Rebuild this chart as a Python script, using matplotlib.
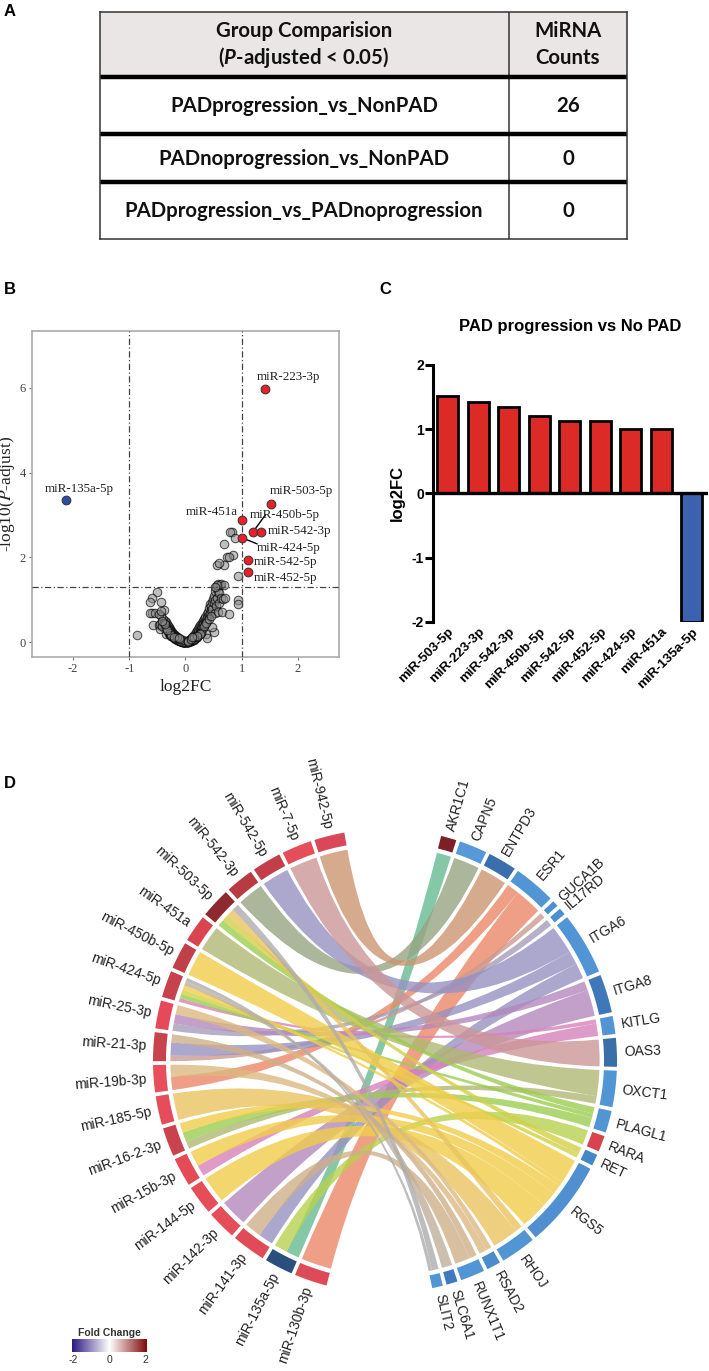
"""Panels A-D: miRNA comparison table, volcano plot, log2FC bars and chord diagram."""

import matplotlib
matplotlib.use('Agg')
import matplotlib.pyplot as plt
import numpy as np
from matplotlib.colors import LinearSegmentedColormap, to_rgb
from matplotlib.patches import PathPatch, Polygon
from matplotlib.path import Path

W, H = 709, 1371
SANS = 'Liberation Sans'
SERIF = 'Liberation Serif'

plt.rcParams['mathtext.fontset'] = 'custom'
plt.rcParams['mathtext.it'] = 'Lato:italic:bold'
plt.rcParams['mathtext.rm'] = 'Lato:bold'

# Panel A
table_rows = ['PADprogression_vs_NonPAD', 'PADnoprogression_vs_NonPAD', 'PADprogression_vs_PADnoprogression']
table_counts = ['26', '0', '0']

# Panel B
gray_x = [-0.87, -0.51, -0.6, -0.63, -0.43, -0.6, -0.39, -0.57, -0.48, -0.64, -0.55,
          -0.02, -0.03, -0.04, -0.05, -0.06, -0.07, -0.08, -0.09, -0.1, -0.11, -0.12, -0.13, -0.14, -0.15,
          -0.16, -0.17, -0.18, -0.19, -0.2, -0.21, -0.22, -0.23, -0.24, -0.25, -0.26, -0.27, -0.28, -0.29,
          -0.3, -0.31, -0.32, -0.33, -0.34, -0.35, -0.36, -0.37, -0.38, -0.4, -0.42, -0.43, -0.45, -0.46,
          -0.47, -0.44, -0.41, -0.34, -0.3, -0.26, -0.22, -0.18, -0.14, -0.1, -0.06, -0.12, -0.08, -0.16,
          0.0, 0.01, -0.01, 0.0, 0.01, -0.02, 0.02, 0.03, -0.03, -0.05, 0.05, 0.07, -0.07, 0.09, -0.09, 0.11, -0.11,
          0.02, 0.03, 0.04, 0.05, 0.06, 0.07, 0.08, 0.09, 0.1, 0.11, 0.12, 0.13, 0.14, 0.15, 0.16, 0.17, 0.18,
          0.19, 0.2, 0.21, 0.22, 0.23, 0.24, 0.25, 0.26, 0.27, 0.28, 0.29, 0.3, 0.31, 0.32, 0.33, 0.34, 0.35,
          0.36, 0.37, 0.38, 0.39, 0.4, 0.41, 0.42, 0.43, 0.44, 0.45, 0.38, 0.5, 0.47, 0.46, 0.47, 0.48, 0.49,
          0.5, 0.51, 0.52, 0.53, 0.53, 0.54, 0.55, 0.56, 0.57, 0.58, 0.58, 0.6, 0.6, 0.62, 0.63, 0.64, 0.66,
          0.68, 0.7, 0.56, 0.65, 0.53,
          0.82, 0.8, 0.88, 0.68, 0.74, 0.85, 0.77, 0.69, 0.56, 0.6, 0.94, 0.93, 0.93, 0.77,
          -0.04, -0.06, -0.09, -0.12, -0.15, -0.18, -0.21, -0.24, -0.27, -0.31, -0.35, -0.39,
          0.04, 0.06, 0.09, 0.12, 0.15, 0.18, 0.21, 0.24, 0.27, 0.31, 0.35, 0.39,
          -0.03, -0.08, -0.13, -0.19, 0.03, 0.08, 0.13, 0.19, 0.23, 0.28, -0.25, -0.28,
          -0.05, -0.1, -0.15, -0.2, -0.25, -0.05, -0.1, -0.15, -0.2, -0.12, 0.05, 0.1, 0.15, 0.2, 0.25,
          0.05, 0.1, 0.15, 0.2, 0.12, 0.33, 0.37, 0.41, 0.45, -0.33, -0.37, -0.42]
gray_y = [0.17, 1.18, 1.04, 0.94, 0.94, 0.68, 0.76, 0.41, 0.41, 0.68, 0.68,
          0.0, 0.01, 0.01, 0.02, 0.02, 0.03, 0.04, 0.04, 0.05, 0.06, 0.07, 0.08, 0.08, 0.1,
          0.11, 0.12, 0.14, 0.16, 0.15, 0.18, 0.2, 0.19, 0.24, 0.26, 0.22, 0.3, 0.27, 0.35,
          0.32, 0.38, 0.3, 0.42, 0.36, 0.48, 0.4, 0.5, 0.33, 0.55, 0.45, 0.62, 0.3, 0.42,
          0.66, 0.74, 0.38, 0.2, 0.2, 0.14, 0.12, 0.07, 0.05, 0.03, 0.01, 0.04, 0.02, 0.08,
          0.0, 0.0, 0.0, 0.01, 0.01, 0.0, 0.0, 0.01, 0.0, 0.01, 0.01, 0.02, 0.02, 0.03, 0.03, 0.05, 0.04,
          0.0, 0.01, 0.02, 0.02, 0.03, 0.04, 0.05, 0.06, 0.07, 0.09, 0.1, 0.12, 0.11, 0.14, 0.17, 0.15, 0.2,
          0.23, 0.18, 0.27, 0.3, 0.24, 0.35, 0.28, 0.4, 0.33, 0.38, 0.45, 0.36, 0.5, 0.43, 0.55, 0.47, 0.6,
          0.52, 0.2, 0.66, 0.58, 0.72, 0.63, 0.8, 0.68, 0.9, 0.75, 0.09, 0.23, 0.35, 0.85, 0.95, 0.78, 1.02,
          0.92, 1.1, 1.0, 1.2, 0.68, 0.85, 1.3, 1.05, 0.7, 1.38, 1.2, 1.15, 0.92, 1.35, 1.05, 1.38, 1.02,
          1.35, 1.05, 1.35, 0.72, 1.31,
          2.6, 2.6, 2.46, 2.31, 2.02, 2.05, 2.0, 1.83, 1.81, 1.87, 1.57, 1.0, 0.9, 0.67,
          0.0, 0.01, 0.02, 0.03, 0.05, 0.09, 0.12, 0.15, 0.2, 0.27, 0.33, 0.46,
          0.0, 0.01, 0.02, 0.04, 0.06, 0.1, 0.13, 0.19, 0.25, 0.34, 0.42, 0.5,
          0.0, 0.02, 0.05, 0.1, 0.0, 0.02, 0.05, 0.11, 0.16, 0.22, 0.15, 0.21,
          0.01, 0.03, 0.07, 0.1, 0.17, 0.04, 0.07, 0.12, 0.13, 0.1, 0.01, 0.04, 0.08, 0.13, 0.2,
          0.03, 0.08, 0.11, 0.15, 0.12, 0.38, 0.45, 0.55, 0.62, 0.28, 0.44, 0.5]
red_names = ['miR-223-3p', 'miR-503-5p', 'miR-451a', 'miR-450b-5p', 'miR-542-3p', 'miR-424-5p', 'miR-542-5p', 'miR-452-5p']
red_x = [1.42, 1.52, 1.01, 1.20, 1.34, 1.01, 1.12, 1.12]
red_y = [5.97, 3.26, 2.87, 2.60, 2.60, 2.46, 1.94, 1.65]
blue_name = 'miR-135a-5p'
blue_x = [-2.13]
blue_y = [3.35]
# label anchors (left end of the text), in data units
label_x = [1.26, 1.50, 0.0, 1.15, 1.47, 1.27, 1.21, 1.21]
label_y = [6.26, 3.57, 3.06, 3.00, 2.63, 2.23, 1.89, 1.52]
blue_label = (-2.51, 3.61)

# Panel C
bar_names = ['miR-503-5p', 'miR-223-3p', 'miR-542-3p', 'miR-450b-5p', 'miR-542-5p',
             'miR-452-5p', 'miR-424-5p', 'miR-451a', 'miR-135a-5p']
bar_vals = [1.52, 1.42, 1.34, 1.20, 1.12, 1.12, 1.01, 1.00, -2.0]

# Panel D: sectors run clockwise from the lower left, sizes in degrees
mir_names = ['miR-130b-3p', 'miR-135a-5p', 'miR-141-3p', 'miR-142-3p', 'miR-144-5p', 'miR-15b-3p', 'miR-16-2-3p',
             'miR-185-5p', 'miR-19b-3p', 'miR-21-3p', 'miR-25-3p', 'miR-424-5p', 'miR-450b-5p', 'miR-451a',
             'miR-503-5p', 'miR-542-3p', 'miR-542-5p', 'miR-7-5p', 'miR-942-5p']
mir_sizes = [8.2, 7.1, 8.5, 7.3, 7.3, 7.2, 7.2, 7.2, 6.8, 7.2, 7.0, 6.7, 6.8, 6.8, 7.5, 7.0, 7.3, 7.5, 7.6]
mir_colors = ['#DE4A57', '#2B4F7C', '#E14A57', '#E54D58', '#E54D58', '#E44B57', '#C9434F', '#E64D5A', '#E84E5B',
              '#C9434F', '#E5495A', '#C6434D', '#C04048', '#D9444F', '#8E2A2F', '#B83A42', '#C23E48', '#E44D59',
              '#D9485A']
gene_names = ['AKR1C1', 'CAPN5', 'ENTPD3', 'ESR1', 'GUCA1B', 'IL17RD', 'ITGA6', 'ITGA8', 'KITLG', 'OAS3', 'OXCT1',
              'PLAGL1', 'RARA', 'RET', 'RGS5', 'RHOJ', 'RSAD2', 'RUNX1T1', 'SLC6A1', 'SLIT2']
gene_sizes = [3.9, 7.0, 7.2, 10.6, 1.5, 1.8, 15.6, 9.6, 4.5, 7.2, 9.1, 5.5, 4.0, 2.9, 21.8, 8.9, 3.5, 6.1, 2.8, 2.7]
gene_colors = ['#7B2027', '#5698D8', '#3A6FAE', '#5295D4', '#4A90D0', '#4A90D0', '#5295D4', '#3F78B8', '#5295D4',
               '#3A6FA8', '#5295D4', '#5295D4', '#D8434F', '#4488C8', '#5090D0', '#5295D4', '#4A8CCC', '#5295D4',
               '#3F7ABB', '#5295D4']
ribbon_colors = ['#84C9A9', '#ACB69A', '#D5AA8D', '#EE9F85', '#D5AFA8', '#B8B0C6', '#ACA7CD', '#C3A0CA', '#DF9BC8',
                 '#D5ABAB', '#BFC68F', '#AFD773', '#C6DA72', '#DAD96A', '#F4D86E', '#EDD07F', '#E3C79A', '#D8BFA0',
                 '#CDC0AF', '#BDBDBD']
# links: miRNA, gene, value; listed in the order they stack inside the miRNA sector
link_mir = ['miR-130b-3p', 'miR-135a-5p', 'miR-135a-5p', 'miR-141-3p', 'miR-141-3p', 'miR-142-3p', 'miR-144-5p',
            'miR-15b-3p', 'miR-15b-3p', 'miR-16-2-3p', 'miR-16-2-3p', 'miR-16-2-3p', 'miR-185-5p', 'miR-19b-3p',
            'miR-19b-3p', 'miR-21-3p', 'miR-21-3p', 'miR-21-3p', 'miR-25-3p', 'miR-25-3p', 'miR-25-3p',
            'miR-424-5p', 'miR-424-5p', 'miR-424-5p', 'miR-424-5p', 'miR-424-5p', 'miR-424-5p', 'miR-450b-5p',
            'miR-451a', 'miR-503-5p', 'miR-503-5p', 'miR-503-5p', 'miR-503-5p', 'miR-542-3p', 'miR-542-5p',
            'miR-7-5p', 'miR-942-5p']
link_gene = ['ESR1', 'AKR1C1', 'RARA', 'ITGA6', 'RUNX1T1', 'ITGA8', 'RGS5',
             'KITLG', 'RGS5', 'OXCT1', 'PLAGL1', 'RGS5', 'RHOJ', 'ESR1',
             'RSAD2', 'GUCA1B', 'ITGA6', 'RUNX1T1', 'IL17RD', 'ITGA8', 'RSAD2',
             'KITLG', 'PLAGL1', 'RET', 'RGS5', 'SLC6A1', 'SLIT2', 'RGS5',
             'OXCT1', 'PLAGL1', 'RET', 'RHOJ', 'SLIT2', 'CAPN5', 'ITGA6',
             'OAS3', 'ENTPD3']
link_val = [8.0, 3.5, 3.5, 4.0, 4.5, 7.3, 7.3,
            3.0, 4.2, 2.0, 2.6, 2.6, 7.2, 3.6,
            3.2, 1.5, 3.5, 2.2, 2.0, 2.5, 2.5,
            1.0, 1.2, 1.2, 1.2, 1.1, 1.0, 6.8,
            6.8, 1.8, 1.8, 2.0, 1.9, 7.0, 7.3,
            7.5, 7.6]

legend_ticks = [-2, 0, 2]


def px_axes(left, top, right, bottom):
    return fig.add_axes([left / W, 1 - bottom / H, (right - left) / W, (bottom - top) / H])


fig = plt.figure(figsize=(W / 100, H / 100), dpi=100)

for letter, x, y in [('A', 10, 11), ('B', 10, 289), ('C', 385, 289), ('D', 10, 783)]:
    fig.text(x / W, 1 - y / H, letter, family=SANS, weight='bold', fontsize=12, ha='center', va='center')

# A table
ax = px_axes(100, 12, 627, 239)
ax.set_xlim(0, 527)
ax.set_ylim(227, 0)
ax.set_xticks([])
ax.set_yticks([])
for s in ax.spines.values():
    s.set_linewidth(1.1)
    s.set_color('#333333')
ax.axhspan(0, 65, color='#E9E6E5', lw=0)
ax.axvline(409, color='#333333', lw=1.1)
for y in [65, 122, 170]:
    ax.axhline(y, color='black', lw=3.2)
tkw = dict(family='Lato', weight='bold', fontsize=14.7, ha='center', va='center', color='#111111')
ax.text(204, 19, 'Group Comparision', **tkw)
ax.text(204, 46, r'($P$-adjusted < 0.05)', math_fontfamily='custom', **tkw)
ax.text(468, 19, 'MiRNA', **tkw)
ax.text(468, 46, 'Counts', **tkw)
for yc, name, count in zip([94, 147, 199], table_rows, table_counts):
    ax.text(204, yc, name, **tkw)
    ax.text(468, yc, count, **tkw)

# B volcano
ax = px_axes(32, 331, 339, 657)
ax.set_xlim(-2.73, 2.73)
ax.set_ylim(-0.35, 7.34)
ax.scatter(gray_x, gray_y, s=38, facecolor=(0.55, 0.55, 0.55, 0.55), edgecolor=(0, 0, 0, 0.65), linewidth=0.75, zorder=2)
for x in [-1, 1]:
    ax.axvline(x, color='#444444', lw=0.9, ls=(0, (5, 2, 1, 2)), zorder=3)
ax.axhline(1.3, color='#444444', lw=0.9, ls=(0, (5, 2, 1, 2)), zorder=3)
ax.plot([red_x[3], 1.42], [red_y[3], 3.0], color='black', lw=1, zorder=3)
ax.plot([red_x[5], 1.27], [red_y[5], 2.32], color='black', lw=1, zorder=3)
ax.scatter(red_x, red_y, s=40, color='#E8202A', edgecolor='#333333', linewidth=0.7, zorder=4)
ax.scatter(blue_x, blue_y, s=40, color='#2F4BA8', edgecolor='#333333', linewidth=0.7, zorder=4)
lkw = dict(family=SERIF, fontsize=9.4, va='center', color='#222222', zorder=5)
for name, x, y in zip(red_names, label_x, label_y):
    ax.text(x, y, name, **lkw)
ax.text(blue_label[0], blue_label[1], blue_name, **lkw)
ax.set_xticks([-2, -1, 0, 1, 2])
ax.set_yticks([0, 2, 4, 6])
ax.tick_params(length=2.5, width=0.8, color='#777777', labelcolor='#444444', labelsize=9, pad=2)
ax.set_xticklabels(['-2', '-1', '0', '1', '2'], family=SERIF)
ax.set_yticklabels(['0', '2', '4', '6'], family=SERIF)
for s in ax.spines.values():
    s.set_color('#AAAAAA')
    s.set_linewidth(1.2)
ax.set_xlabel('log2FC', family=SERIF, fontsize=12.5, color='#222222', labelpad=3)
ax.set_ylabel(r'-log10($P$-adjust)', family=SERIF, math_fontfamily='stix', fontsize=12.5, color='#222222')
ax.yaxis.set_label_coords(-0.048, 0.5)

# C bars
ax = px_axes(433, 365, 708, 621.7)
pos = np.arange(len(bar_vals))
colors = ['#DC2B26' if v > 0 else '#3A62AE' for v in bar_vals]
ax.bar(pos, bar_vals, width=0.68, color=colors, edgecolor='black', linewidth=2, zorder=2)
ax.set_xlim(-0.485, 8.53)
ax.set_ylim(-2, 2)
ax.axhline(0, color='black', lw=2.4, zorder=3)
for side in ['top', 'right', 'bottom']:
    ax.spines[side].set_visible(False)
ax.spines['left'].set_linewidth(2.2)
ax.tick_params(axis='y', length=5.5, width=2.2, pad=1)
ax.tick_params(axis='x', length=0, pad=3)
ax.set_yticks([-2, -1, 0, 1, 2])
ax.set_yticklabels(['-2', '-1', '0', '1', '2'], family=SANS, weight='bold', fontsize=10)
ax.set_xticks(pos)
ax.set_xticklabels(bar_names, family=SANS, weight='bold', fontsize=9.6, rotation=45, ha='right', rotation_mode='anchor')
ax.set_ylabel('log2FC', family=SANS, weight='bold', fontsize=12, labelpad=5)
fig.text(570 / W, 1 - 327 / H, 'PAD progression vs No PAD', family=SANS, weight='bold', fontsize=12, ha='center', va='center')

# D chord, one unit is the outer ring radius
R, CX, CY = 232.0, 385.0, 1061.0
ax = fig.add_axes([0, 0, 1, 1])
ax.set_xlim(-CX / R, (W - CX) / R)
ax.set_ylim((CY - H) / R, CY / R)
ax.axis('off')
ax.patch.set_alpha(0)
RING_IN, LINK_R, LABEL_R = 0.944, 0.925, 1.03
GAP = 0.95
ALPHA = 0.8


def point(theta, r):
    a = np.radians(theta)
    return np.array([r * np.sin(a), r * np.cos(a)])


def arc(t0, t1, r, n=24):
    return [point(t, r) for t in np.linspace(t0, t1, n)]


def layout(sizes, start):
    spans = []
    t = start
    for size in sizes:
        spans.append((t, t + size))
        t += size + GAP
    return spans


def unblend(color):
    c = (np.array(to_rgb(color)) - (1 - ALPHA)) / ALPHA
    return tuple(np.clip(c, 0, 1))


mir_span = dict(zip(mir_names, layout(mir_sizes, 194.6)))
gene_span = dict(zip(gene_names, layout(gene_sizes, 14.0)))
ribbon_col = dict(zip(gene_names, ribbon_colors))

for names, colors, span, ha in [(mir_names, mir_colors, mir_span, 'right'), (gene_names, gene_colors, gene_span, 'left')]:
    for name, col in zip(names, colors):
        t0, t1 = span[name]
        ax.add_patch(Polygon(arc(t0, t1, 1.0) + arc(t1, t0, RING_IN), closed=True, facecolor=col, edgecolor='none'))
        mid = (t0 + t1) / 2
        x, y = point(mid, LABEL_R)
        rot = 90 - mid if ha == 'left' else 270 - mid
        ax.text(x, y, name, family=SANS, fontsize=10, color='#222222', rotation=rot, rotation_mode='anchor',
                ha=ha, va='center', clip_on=False)

# end widths of each ribbon: its share of the sector on that side
mir_total = {m: sum(v for a, v in zip(link_mir, link_val) if a == m) for m in mir_names}
gene_total = {g: sum(v for b, v in zip(link_gene, link_val) if b == g) for g in gene_names}
mir_used = {m: 0.0 for m in mir_names}
gene_used = {g: 0.0 for g in gene_names}
order_gene = sorted(range(len(link_val)), key=lambda i: -mir_names.index(link_mir[i]))
gene_ends = {}
for i in order_gene:
    g = link_gene[i]
    t0, t1 = gene_span[g]
    w = (t1 - t0) * link_val[i] / gene_total[g]
    gene_ends[i] = (t0 + gene_used[g], t0 + gene_used[g] + w)
    gene_used[g] += w

for i, (m, g, v) in enumerate(zip(link_mir, link_gene, link_val)):
    t0, t1 = mir_span[m]
    w = (t1 - t0) * v / mir_total[m]
    a0, a1 = t0 + mir_used[m], t0 + mir_used[m] + w
    mir_used[m] += w
    b0, b1 = gene_ends[i]
    side_a = arc(a0, a1, LINK_R, 8)
    side_b = arc(b0, b1, LINK_R, 8)
    verts = side_a + [(0, 0), side_b[0]] + side_b[1:] + [(0, 0), side_a[0]]
    codes = ([Path.MOVETO] + [Path.LINETO] * 7 + [Path.CURVE3, Path.CURVE3] + [Path.LINETO] * 7
             + [Path.CURVE3, Path.CURVE3])
    ax.add_patch(PathPatch(Path(verts, codes), facecolor=unblend(ribbon_col[g]), alpha=ALPHA, edgecolor='none', zorder=1))

# fold change legend
cax = px_axes(72, 1339, 147, 1352)
cmap = LinearSegmentedColormap.from_list('fc', ['#2D1982', '#FFFFFF', '#820A0A'])
cax.imshow(np.linspace(-2, 2, 200)[None, :], cmap=cmap, vmin=-2, vmax=2, aspect='auto', extent=[-2.07, 2.07, 0, 1])
cax.set_yticks([])
cax.set_xticks(legend_ticks)
cax.set_xticklabels(['-2', '0', '2'], family=SANS, fontsize=7.5, color='#333333')
cax.tick_params(axis='x', length=0, pad=2)
for s in cax.spines.values():
    s.set_visible(False)
cax.set_title('Fold Change', family=SANS, weight='bold', fontsize=7.5, color='#333333', pad=2.5)

fig.savefig('out.png', dpi=100)
